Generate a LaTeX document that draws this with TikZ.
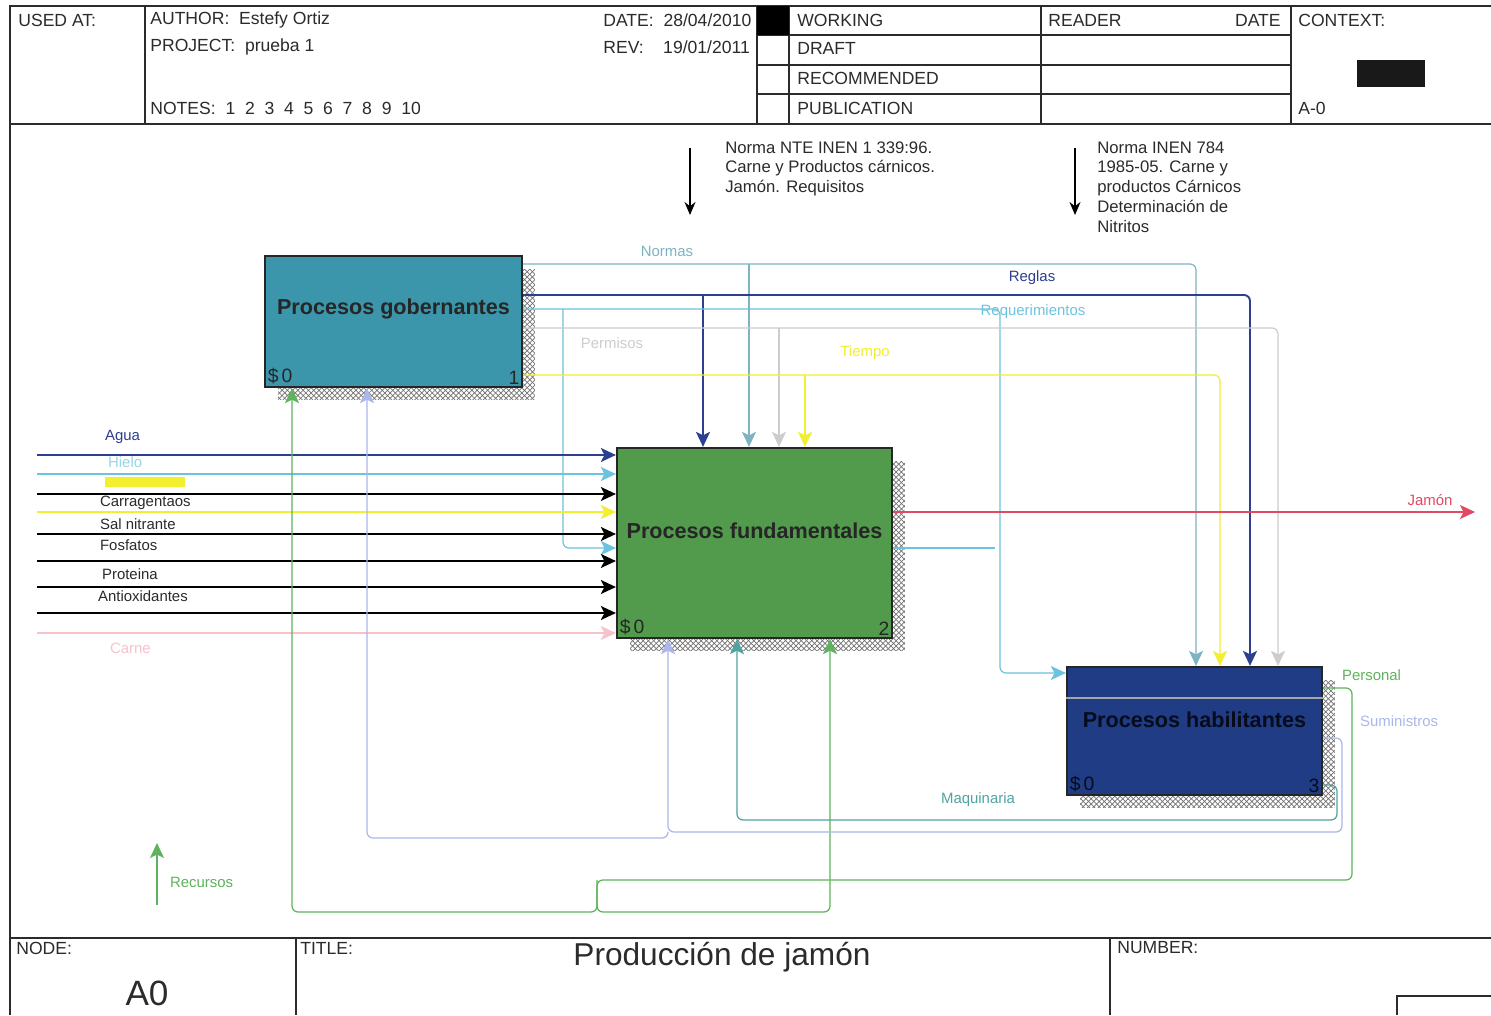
\documentclass[tikz,border=0pt]{standalone}
\usepackage{fontspec}
\setmainfont{Liberation Sans}
\usetikzlibrary{arrows.meta,patterns,shadows}
\definecolor{FrameInk}{HTML}{2B2B2B}
\definecolor{BoxGob}{HTML}{3B96AC}
\definecolor{BoxFund}{HTML}{529A4C}
\definecolor{BoxHab}{HTML}{1F3C84}
\definecolor{LineNormas}{HTML}{7DB3C2}
\definecolor{LineReglas}{HTML}{2C3F90}
\definecolor{LineReq}{HTML}{6CC3DE}
\definecolor{LineGray}{HTML}{CDCDCD}
\definecolor{LineYellow}{HTML}{F2EE30}
\definecolor{LineRed}{HTML}{E24A63}
\definecolor{LinePink}{HTML}{F6C3CB}
\definecolor{LineGreen}{HTML}{5FB35C}
\definecolor{LineLav}{HTML}{ABB7EA}
\definecolor{LineMaq}{HTML}{4FA3A0}

\begin{document}
\begin{tikzpicture}[
  x=0.02cm,y=-0.02cm,
  font=\fontsize{10}{12}\selectfont,
  text=FrameInk,
  rule/.style={draw=FrameInk,line width=1pt},
  cell/.style={anchor=west,inner sep=0pt},
  idefbox/.style={draw=black!85,line width=1.3pt,inner sep=0pt,
    general shadow={shadow xshift=0.26cm,shadow yshift=-0.26cm,pattern=crosshatch,pattern color=black!55}},
  boxtitle/.style={font=\bfseries\fontsize{12.3}{14}\selectfont,text=black!85},
  boxnum/.style={font=\fontsize{11}{13}\selectfont,inner sep=2pt,text=black!85},
  flow/.style={line width=0.7pt,rounded corners=0.12cm},
  arrowed/.style={-{Stealth[length=3mm,width=2.8mm,inset=0.7mm]}},
  lbl/.style={font=\fontsize{8.5}{10}\selectfont,inner sep=1pt},
  note/.style={font=\fontsize{9.5}{11.3}\selectfont,align=left,anchor=north west,inner sep=0pt},
]
  \fill[white] (0,0) rectangle (1491,1015);
  \useasboundingbox (0,0) rectangle (1491,1015);

  \draw[rule] (1491,6) -- (10,6) -- (10,1015);
  \draw[rule] (10,124) -- (1491,124);
  \draw[rule] (10,938) -- (1491,938);
  \foreach \xx in {145,757,789,1041,1291}
    \draw[rule] (\xx,6) -- (\xx,124);
  \foreach \yy in {35,65,94}
    \draw[rule,line width=0.7pt] (757,\yy) -- (1291,\yy);
  \fill[black] (757,6) rectangle (789,35);
  \fill[black!90] (1357,60) rectangle (1425,87);
  \draw[rule] (296,938) -- (296,1015);
  \draw[rule] (1110,938) -- (1110,1015);
  \draw[rule,line width=0.7pt] (1397,1015) -- (1397,996) -- (1491,996);

  \node[cell] (usedat) at (18,20) {USED AT:};
  \node[cell] (author) at (150,20) {AUTHOR:\ \ Estefy Ortiz};
  \node[cell] (project) at (150,47) {PROJECT:\ \ prueba 1};
  \node[cell] (notes) at (150,108) {NOTES:\ \ 1\ \ 2\ \ 3\ \ 4\ \ 5\ \ 6\ \ 7\ \ 8\ \ 9\ \ 10};
  \node[cell] (date) at (603,20) {DATE:\ \ 28/04/2010};
  \node[cell] (rev) at (603,47) {REV:\ \ \ \ 19/01/2011};
  \node[cell] (working) at (797,20) {WORKING};
  \node[cell] (draft) at (797,48) {DRAFT};
  \node[cell] (recom) at (797,78) {RECOMMENDED};
  \node[cell] (public) at (797,108) {PUBLICATION};
  \node[cell] (reader) at (1048,20) {READER};
  \node[cell,anchor=east] (rdate) at (1281,20) {DATE};
  \node[cell] (context) at (1298,20) {CONTEXT:};
  \node[cell] (ctxnode) at (1298,108) {A-0};
  \node[cell] (nodelbl) at (16,948) {NODE:};
  \node[cell] (titlelbl) at (300,948) {TITLE:};
  \node[cell] (numberlbl) at (1117,948) {NUMBER:};
  \node[font=\fontsize{18}{20}\selectfont] (title) at (722,957) {Producción de jamón};
  \node[font=\fontsize{20}{22}\selectfont] (nodeid) at (147,993) {A0};

  \node[idefbox,fill=BoxGob,minimum width=5.14cm,minimum height=2.62cm] (gob) at (393.5,321.5) {};
  \node[boxtitle] (gob-t) at ([yshift=0.25cm]gob.center) {Procesos gobernantes};
  \node[boxnum,anchor=south west] (gob-c) at (gob.south west) {\$\,0};
  \node[boxnum,anchor=south east] (gob-n) at (gob.south east) {1};

  \node[idefbox,fill=BoxFund,minimum width=5.5cm,minimum height=3.8cm] (fund) at (754.5,543) {};
  \node[boxtitle] (fund-t) at ([yshift=0.24cm]fund.center) {Procesos fundamentales};
  \node[boxnum,anchor=south west] (fund-c) at (fund.south west) {\$\,0};
  \node[boxnum,anchor=south east] (fund-n) at (fund.south east) {2};

  \node[idefbox,fill=BoxHab,minimum width=5.1cm,minimum height=2.56cm] (hab) at (1194.5,731) {};
  \draw[gray!70,line width=0.6pt] (hab.west |- 0,698) -- (hab.east |- 0,698);
  \node[boxtitle,text=black!80!BoxHab] (hab-t) at ([yshift=0.22cm]hab.center) {Procesos habilitantes};
  \node[boxnum,anchor=south west,text=black!80!BoxHab] (hab-c) at (hab.south west) {\$\,0};
  \node[boxnum,anchor=south east,text=black!80!BoxHab] (hab-n) at (hab.south east) {3};

  \coordinate (jn) at (749,264);
  \coordinate (jg) at (703,295);
  \coordinate (jr) at (563,309);
  \coordinate (jw) at (779,328);
  \coordinate (jy) at (805,375);
  \draw[flow,arrowed,draw=LineNormas] (gob.east |- 0,264) -| (hab.north -| 1196,0);
  \draw[flow,arrowed,draw=LineNormas] (jn) -- (fund.north -| jn);
  \draw[flow,arrowed,draw=LineReglas,line width=1.1pt] (gob.east |- 0,295) -| (hab.north -| 1250,0);
  \draw[flow,arrowed,draw=LineReglas,line width=1.1pt] (jg) -- (fund.north -| jg);
  \draw[flow,arrowed,draw=LineReq] (gob.east |- 0,309) -| (1000,673) -- (hab.west |- 0,673);
  \draw[flow,arrowed,draw=LineReq] (jr) |- (fund.west |- 0,548);
  \draw[flow,arrowed,draw=LineGray] (gob.east |- 0,328) -| (hab.north -| 1278,0);
  \draw[flow,arrowed,draw=LineGray] (jw) -- (fund.north -| jw);
  \draw[flow,arrowed,draw=LineYellow] (gob.east |- 0,375) -| (hab.north -| 1220,0);
  \draw[flow,arrowed,draw=LineYellow] (jy) -- (fund.north -| jy);

  \node[lbl,text=LineNormas] (normas) at (667,251) {Normas};
  \node[lbl,text=LineReglas] (reglas) at (1032,278) {Reglas};
  \node[lbl,text=LineReq] (reque) at (1033,312) {Requerimientos};
  \node[lbl,text=LineGray] (permisos) at (612,343) {Permisos};
  \node[lbl,text=LineYellow] (tiempo) at (865,353) {Tiempo};

  \coordinate (src) at (37,0);
  \foreach \yy/\cc/\ww in {455/LineReglas/0.8pt,474/LineReq/1.6pt,494/black/0.8pt,
      512/LineYellow/0.8pt,534/black/0.8pt,561/black/0.8pt,587/black/0.8pt,
      613/black/0.8pt,633/LinePink/0.6pt}
    \draw[flow,arrowed,draw=\cc,line width=\ww] (src |- 0,\yy) -- (fund.west |- 0,\yy);

  \node[lbl,anchor=west,text=LineReglas] (agua) at (103,437) {Agua};
  \node[lbl,anchor=west,text=LineReq!70] (hielo) at (106,462) {Hielo};
  \node[fill=LineYellow,minimum width=1.6cm,minimum height=0.2cm,inner sep=0pt] (amarillo) at (145,482) {};
  \node[lbl,anchor=west] (carra) at (98,503) {Carragentaos};
  \node[lbl,anchor=west] (sal) at (98,524) {Sal nitrante};
  \node[lbl,anchor=west] (fosf) at (98,545) {Fosfatos};
  \node[lbl,anchor=west] (prot) at (100,574) {Proteina};
  \node[lbl,anchor=west] (antiox) at (96,596) {Antioxidantes};
  \node[lbl,anchor=west,text=LinePink] (carne) at (108,648) {Carne};

  \coordinate (jam) at (1475,512);
  \coordinate (stub) at (995,548);
  \draw[flow,arrowed,draw=LineRed] (fund.east |- 0,512) -- (jam);
  \draw[flow,draw=LineReq,line width=1.2pt] (fund.east |- 0,548) -- (stub);
  \node[lbl,text=LineRed] (jamon) at (1430,500) {Jamón};

  \coordinate (jp) at (597,880);
  \coordinate (js) at (668,832);
  \draw[flow,arrowed,draw=LineGreen] (hab.east |- 0,688) -| (1352,880) -- (jp) |- (292,912) -- (gob.south -| 292,0);
  \draw[flow,arrowed,draw=LineGreen] (jp) |- (830,912) -- (fund.south -| 830,0);
  \draw[flow,arrowed,draw=LineLav] (hab.east |- 0,738) -| (1342,832) -- (js) -- (fund.south -| js);
  \draw[flow,arrowed,draw=LineLav] (js) |- (367,838) -- (gob.south -| 367,0);
  \draw[flow,arrowed,draw=LineMaq] (hab.east |- 0,785) -| (1337,820) -| (fund.south -| 737,0);
  \node[lbl,anchor=west,text=LineGreen] (personal) at (1340,675) {Personal};
  \node[lbl,anchor=west,text=LineLav] (sumin) at (1358,721) {Suministros};
  \node[lbl,text=LineMaq] (maqui) at (978,800) {Maquinaria};

  \coordinate (rec-a) at (157,905);
  \coordinate (rec-b) at (157,843);
  \draw[flow,arrowed,draw=LineGreen] (rec-a) -- (rec-b);
  \node[lbl,anchor=west,text=LineGreen] (recursos) at (168,882) {Recursos};

  \node[note] (nte) at (725,141) {Norma NTE INEN 1 339:96.\\Carne y Productos cárnicos.\\Jamón. Requisitos};
  \node[note] (inen) at (1097,141) {Norma INEN 784\\1985-05. Carne y\\productos Cárnicos\\Determinación de\\Nitritos};
  \coordinate (nte-a) at (690,148);
  \coordinate (nte-b) at (690,215);
  \coordinate (inen-a) at (1075,148);
  \coordinate (inen-b) at (1075,215);
  \draw[line width=0.8pt,-{Stealth[length=2.6mm,width=2.2mm]}] (nte-a) -- (nte-b);
  \draw[line width=0.8pt,-{Stealth[length=2.6mm,width=2.2mm]}] (inen-a) -- (inen-b);
\end{tikzpicture}
\end{document}
